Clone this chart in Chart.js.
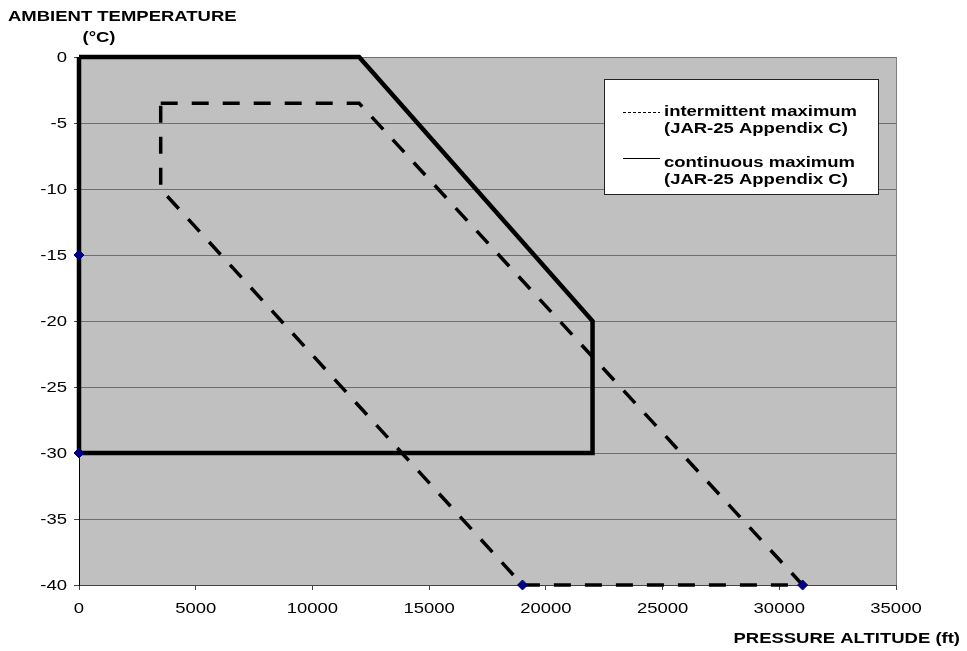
<!DOCTYPE html>
<html>
<head>
<meta charset="utf-8">
<script src="https://cdn.jsdelivr.net/npm/chart.js@4.4.1/dist/chart.umd.min.js"></script>
<style>
  body { margin: 0; background: #fff; }
  canvas { display: block; }
</style>
</head>
<body>
<canvas id="envelope" width="967" height="651"></canvas>
<script>
// axis ticks
const xTicks = [0, 5000, 10000, 15000, 20000, 25000, 30000, 35000];
const yTicks = [0, -5, -10, -15, -20, -25, -30, -35, -40];

// continuous maximum (solid)
const contAlt = [0, 12000, 22000, 22000, 0, 0];
const contTemp = [0, 0, -20, -30, -30, 0];

// intermittent maximum (dashed)
const interAlt = [3500, 12000, 31000, 19000, 3500, 3500];
const interTemp = [-3.5, -3.5, -40, -40, -10, -3.5];

// small marker points
const markAlt = [0, 0, 19000, 31000];
const markTemp = [-15, -30, -40, -40];

const yTitle = ["AMBIENT TEMPERATURE", "(°C)"];
const xTitle = "PRESSURE ALTITUDE (ft)";
const legendItems = [
    { lines: ["intermittent maximum", "(JAR-25 Appendix C)"], dash: [3, 2] },
    { lines: ["continuous maximum", "(JAR-25 Appendix C)"], dash: [] },
];

const toPoints = (xs, ys) => xs.map((x, i) => ({ x: x, y: ys[i] }));

const FONT = "bold 14px 'Liberation Sans', Arial, sans-serif";
const FONT_TICK = "14px 'Liberation Sans', Arial, sans-serif";
const STRETCH = 1.32;

// text in the picture is a bit wider than normal Arial
function wideText(ctx, text, x, y, align) {
    ctx.save();
    const w = ctx.measureText(text).width * STRETCH;
    let left = x;
    if (align === "right") left = x - w;
    if (align === "center") left = x - w / 2;
    ctx.translate(left, y);
    ctx.scale(STRETCH, 1);
    ctx.textAlign = "left";
    ctx.fillText(text, 0, 0);
    ctx.restore();
}

const plotPlugin = {
    id: "plotPlugin",
    beforeDraw(chart) {
        const { ctx, chartArea: a } = chart;
        ctx.save();
        ctx.fillStyle = "#c0c0c0";
        ctx.fillRect(a.left, a.top, a.right - a.left, a.bottom - a.top);
        ctx.strokeStyle = "#808080";
        ctx.lineWidth = 1;
        ctx.beginPath();
        ctx.moveTo(a.right + 0.5, a.top);
        ctx.lineTo(a.right + 0.5, a.bottom);
        ctx.stroke();
        ctx.restore();
    },
    afterDraw(chart) {
        const { ctx, scales } = chart;
        ctx.save();
        ctx.fillStyle = "#000";
        ctx.textBaseline = "middle";

        // tick labels
        ctx.font = FONT_TICK;
        scales.y.ticks.forEach((t) => {
            wideText(ctx, String(t.value), 67, scales.y.getPixelForValue(t.value) + 1, "right");
        });
        scales.x.ticks.forEach((t) => {
            wideText(ctx, String(t.value), scales.x.getPixelForValue(t.value), 609, "center");
        });

        // axis titles
        ctx.font = FONT;
        ctx.textBaseline = "alphabetic";
        wideText(ctx, yTitle[0], 8, 21, "left");
        wideText(ctx, yTitle[1], 99, 42, "center");
        wideText(ctx, xTitle, 960, 643, "right");

        // legend box
        const lx = 604, ly = 79, lw = 274, lh = 115;
        ctx.fillStyle = "#fff";
        ctx.fillRect(lx, ly, lw, lh);
        ctx.strokeStyle = "#222";
        ctx.lineWidth = 1;
        ctx.strokeRect(lx + 0.5, ly + 0.5, lw, lh);

        const rows = [{ sample: 112.5, base: 116 }, { sample: 158.5, base: 167 }];
        legendItems.forEach((item, i) => {
            const r = rows[i];
            ctx.strokeStyle = "#000";
            ctx.lineWidth = 1;
            ctx.setLineDash(item.dash);
            ctx.beginPath();
            ctx.moveTo(623, r.sample);
            ctx.lineTo(660, r.sample);
            ctx.stroke();
            ctx.setLineDash([]);
            ctx.fillStyle = "#000";
            ctx.font = FONT;
            wideText(ctx, item.lines[0], 664, r.base, "left");
            wideText(ctx, item.lines[1], 664, r.base + 17, "left");
        });
        ctx.restore();
    },
};

new Chart(document.getElementById("envelope"), {
    type: "scatter",
    data: {
        datasets: [
            {
                label: "markers",
                data: toPoints(markAlt, markTemp),
                showLine: false,
                pointStyle: "rectRot",
                pointRadius: 5,
                backgroundColor: "#000080",
                borderColor: "#000080",
                borderWidth: 1,
                order: 0,
                clip: false,
            },
            {
                label: "continuous maximum (JAR-25 Appendix C)",
                data: toPoints(contAlt, contTemp),
                showLine: true,
                borderColor: "#000",
                borderWidth: 4.5,
                borderJoinStyle: "miter",
                pointRadius: 0,
                tension: 0,
                order: 1,
                clip: false,
            },
            {
                label: "intermittent maximum (JAR-25 Appendix C)",
                data: toPoints(interAlt, interTemp),
                showLine: true,
                borderColor: "#000",
                borderWidth: 3.5,
                borderDash: [17, 14],
                borderJoinStyle: "miter",
                pointRadius: 0,
                tension: 0,
                order: 2,
                clip: false,
            },
        ],
    },
    options: {
        responsive: false,
        animation: false,
        events: [],
        layout: {
            padding: { top: 57, right: 71, left: 0, bottom: 0 },
        },
        scales: {
            x: {
                type: "linear",
                min: 0,
                max: 35000,
                afterBuildTicks: (scale) => {
                    scale.ticks = xTicks.map((v) => ({ value: v }));
                },
                afterFit: (scale) => {
                    scale.height = 66;
                },
                ticks: { display: false },
                grid: {
                    drawOnChartArea: false,
                    drawTicks: true,
                    tickLength: 5,
                    color: "#444",
                },
                border: { display: true, color: "#444", width: 1 },
            },
            y: {
                type: "linear",
                min: -40,
                max: 0,
                afterBuildTicks: (scale) => {
                    scale.ticks = yTicks.map((v) => ({ value: v }));
                },
                afterFit: (scale) => {
                    scale.width = 79;
                },
                ticks: { display: false },
                grid: {
                    color: "#6e6e6e",
                    lineWidth: 1,
                    drawTicks: true,
                    tickLength: 5,
                    tickColor: "#444",
                },
                border: { display: true, color: "#000", width: 1 },
            },
        },
        plugins: {
            legend: { display: false },
            tooltip: { enabled: false },
            title: { display: false },
        },
    },
    plugins: [plotPlugin],
});
</script>
</body>
</html>
